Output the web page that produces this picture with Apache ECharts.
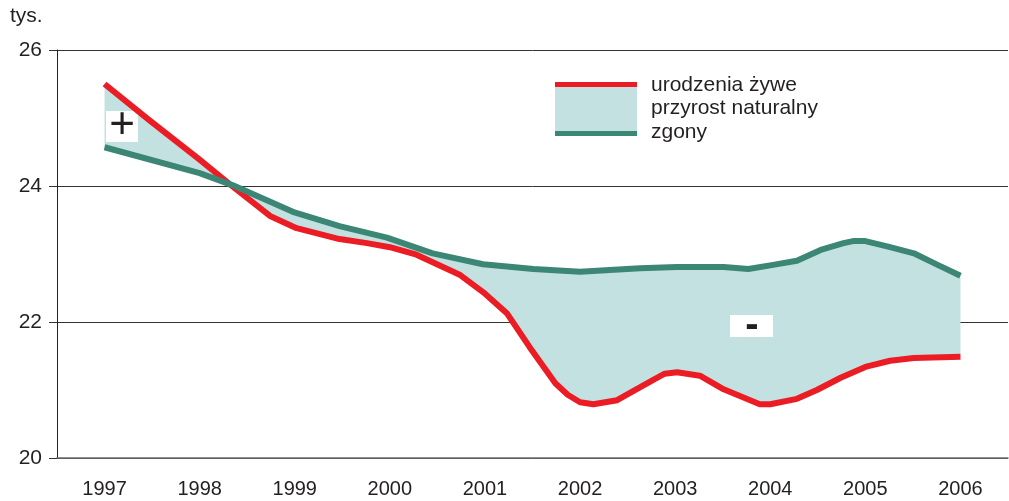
<!DOCTYPE html>
<html>
<head>
<meta charset="utf-8">
<script src="https://cdn.jsdelivr.net/npm/echarts@6/dist/echarts.min.js"></script>
<style>
  html, body { margin: 0; padding: 0; background: #fff; }
  #chart { width: 1009px; height: 501px; }
</style>
</head>
<body>
<div id="chart"></div>
<script>
const years = ['1997', '1998', '1999', '2000', '2001', '2002', '2003', '2004', '2005', '2006']

// urodzenia żywe (tys.)
const birthsX = [1997.00, 1997.47, 1997.99, 1998.34, 1998.74, 1999.02, 1999.47, 1999.76, 2000.00, 2000.28,
  2000.74, 2000.98, 2001.23, 2001.47, 2001.74, 2001.87, 2002.00, 2002.14, 2002.39, 2002.53,
  2002.77, 2002.89, 2003.02, 2003.26, 2003.51, 2003.89, 2004.00, 2004.28, 2004.49, 2004.74,
  2005.00, 2005.26, 2005.51, 2006.00]
const birthsY = [25.50, 24.97, 24.40, 24.00, 23.56, 23.38, 23.22, 23.16, 23.10, 22.99,
  22.69, 22.44, 22.13, 21.63, 21.10, 20.93, 20.82, 20.79, 20.85, 20.96,
  21.15, 21.24, 21.26, 21.21, 21.01, 20.79, 20.79, 20.87, 21.00, 21.18,
  21.34, 21.43, 21.47, 21.49]

// zgony (tys.)
const deathsX = [1997.00, 1998.00, 1998.35, 1998.98, 1999.47, 1999.97, 2000.45, 2000.98, 2001.51, 2002.00,
  2002.63, 2003.02, 2003.51, 2003.77, 2004.03, 2004.28, 2004.53, 2004.77, 2004.87, 2005.00,
  2005.26, 2005.51, 2005.76, 2006.00]
const deathsY = [24.57, 24.19, 24.01, 23.62, 23.41, 23.24, 23.01, 22.85, 22.78, 22.74,
  22.79, 22.81, 22.81, 22.78, 22.84, 22.90, 23.06, 23.16, 23.19, 23.19,
  23.10, 23.01, 22.84, 22.68]

const births = birthsX.map((x, i) => [x, birthsY[i]])
const deaths = deathsX.map((x, i) => [x, deathsY[i]])

const font = "'Liberation Sans', Arial, sans-serif"
const ink = '#231f20'
const red = '#ec1c24'
const green = '#3b8675'
const band = '#c2e1e0'

const chart = echarts.init(document.getElementById('chart'))
chart.setOption({
  animation: false,
  backgroundColor: '#fff',
  grid: { left: 57, right: 1, top: 50, bottom: 43 },
  xAxis: [{
    type: 'category',
    data: years,
    boundaryGap: true,
    axisLine: { lineStyle: { color: '#6d6d6d', width: 1.5 } },
    axisTick: { length: 10, lineStyle: { color: '#6d6d6d', width: 1.2 } },
    axisLabel: { margin: 21, fontSize: 20, color: ink, fontFamily: font },
    splitLine: { show: false }
  }, {
    type: 'value',
    min: 1996.5,
    max: 2006.5,
    show: false
  }],
  yAxis: {
    type: 'value',
    min: 20,
    max: 26,
    interval: 2,
    axisLine: { show: true, lineStyle: { color: '#222', width: 1 } },
    axisTick: { show: true, length: 8, lineStyle: { color: '#333' } },
    axisLabel: { margin: 15, fontSize: 21, color: ink, fontFamily: font },
    splitLine: { lineStyle: { color: '#333', width: 1 } }
  },
  series: [
    {
      // przyrost naturalny - area between the two lines
      type: 'custom',
      xAxisIndex: 1,
      silent: true,
      data: [[2000, 23]],
      renderItem(params, api) {
        const pts = births.map(p => api.coord(p))
          .concat(deaths.slice().reverse().map(p => api.coord(p)))
        return { type: 'polygon', shape: { points: pts }, style: { fill: band } }
      },
      z: 1
    },
    {
      name: 'urodzenia żywe',
      type: 'line',
      xAxisIndex: 1,
      data: births,
      showSymbol: false,
      lineStyle: { color: red, width: 6, cap: 'butt', join: 'round' },
      z: 3
    },
    {
      name: 'zgony',
      type: 'line',
      xAxisIndex: 1,
      data: deaths,
      showSymbol: false,
      lineStyle: { color: green, width: 6, cap: 'butt', join: 'round' },
      z: 4
    }
  ],
  graphic: [
    { type: 'text', left: 10, top: 6, style: { text: 'tys.', fontSize: 21, fill: ink, fontFamily: font } },
    // legend
    { type: 'rect', shape: { x: 555, y: 85, width: 82, height: 48 }, style: { fill: band } },
    { type: 'rect', shape: { x: 555, y: 82, width: 82, height: 5 }, style: { fill: red } },
    { type: 'rect', shape: { x: 555, y: 131, width: 82, height: 5 }, style: { fill: green } },
    { type: 'text', x: 651, y: 85, style: { text: 'urodzenia żywe', fontSize: 21, fill: ink, fontFamily: font, verticalAlign: 'middle' } },
    { type: 'text', x: 651, y: 108, style: { text: 'przyrost naturalny', fontSize: 21, fill: ink, fontFamily: font, verticalAlign: 'middle' } },
    { type: 'text', x: 651, y: 132, style: { text: 'zgony', fontSize: 21, fill: ink, fontFamily: font, verticalAlign: 'middle' } },
    // plus / minus markers (boxes sit under the lines)
    { type: 'rect', shape: { x: 106, y: 111, width: 32, height: 31 }, style: { fill: '#fff' }, z: 2 },
    { type: 'text', x: 122, y: 126, style: { text: '+', fontSize: 44, fill: ink, fontFamily: font, align: 'center', verticalAlign: 'middle' }, z: 2 },
    { type: 'rect', shape: { x: 730, y: 315, width: 43, height: 22 }, style: { fill: '#fff' }, z: 2 },
    { type: 'text', x: 752, y: 326, style: { text: '-', fontSize: 40, fontWeight: 'bold', fill: ink, fontFamily: font, align: 'center', verticalAlign: 'middle' }, z: 2 }
  ]
})
</script>
</body>
</html>
